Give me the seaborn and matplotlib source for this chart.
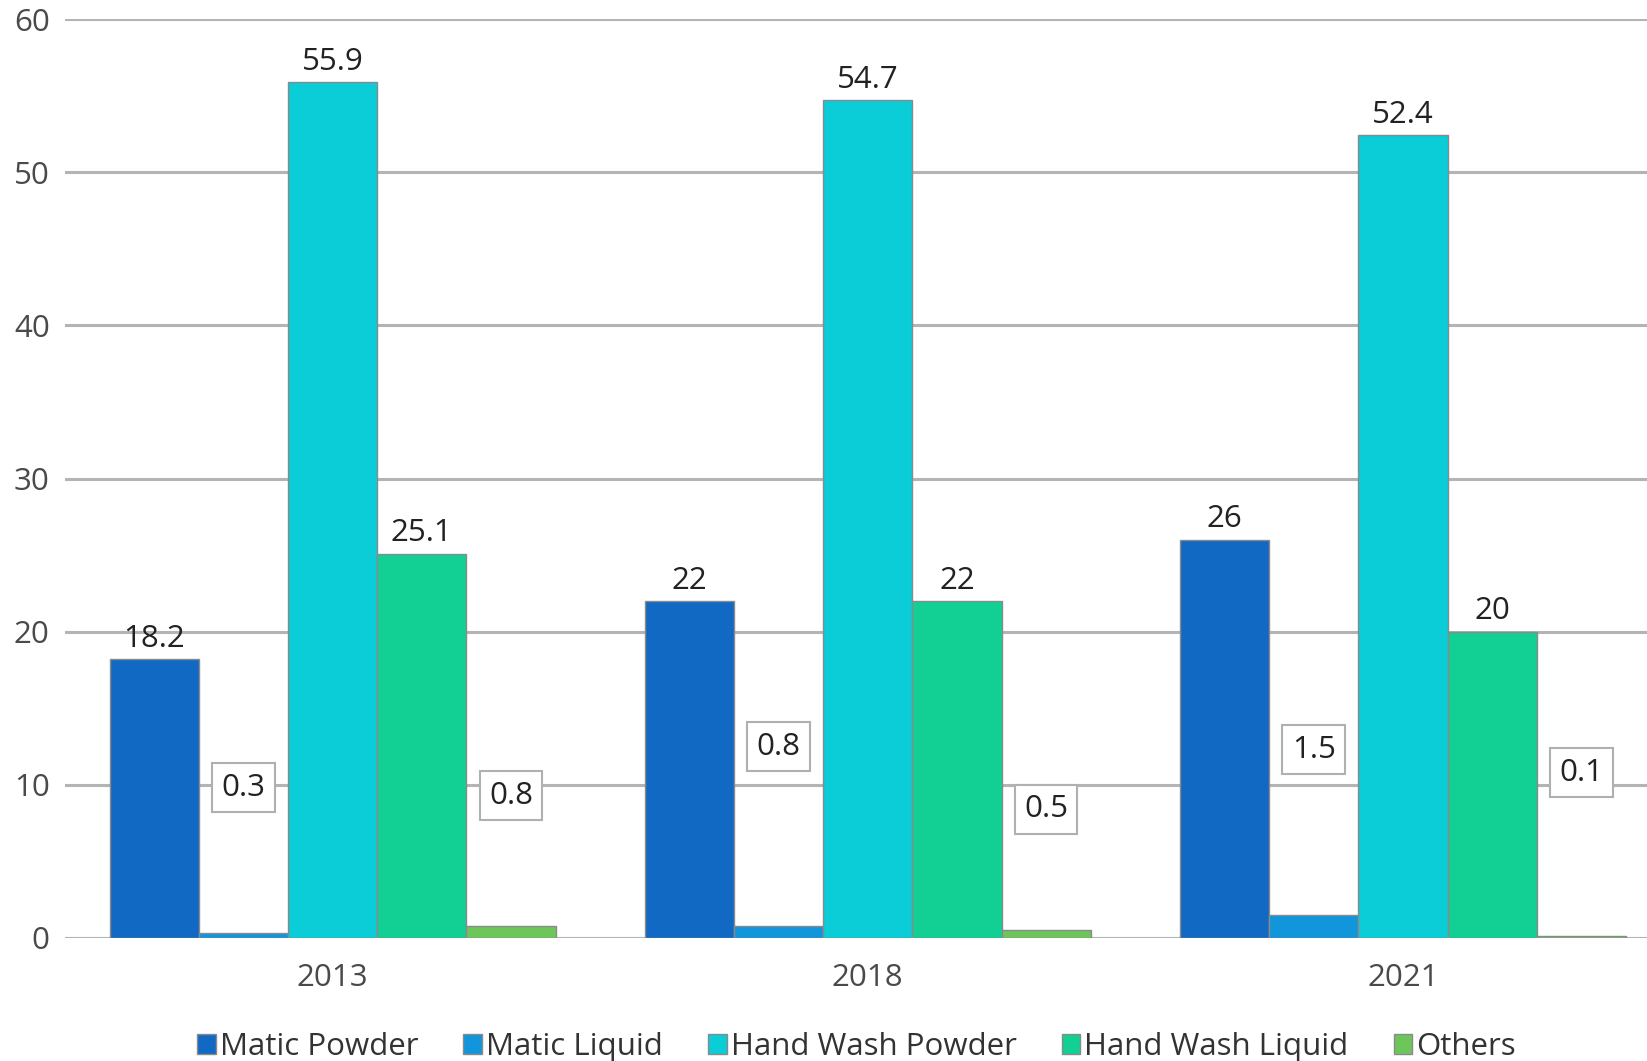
import matplotlib
matplotlib.use("Agg")
import matplotlib.pyplot as plt
import seaborn as sns
import pandas as pd

# Market share by detergent type (%)
years = ["2013", "2018", "2021"]
segments = ["Matic Powder", "Matic Liquid", "Hand Wash Powder", "Hand Wash Liquid", "Others"]
matic_powder = [18.2, 22, 26]
matic_liquid = [0.3, 0.8, 1.5]
hand_wash_powder = [55.9, 54.7, 52.4]
hand_wash_liquid = [25.1, 22, 20]
others = [0.8, 0.5, 0.1]

colors = ["#1169c4", "#1196dc", "#0bcdd8", "#12cf94", "#6cc65a"]

# Heights at which the boxed labels of the small bars sit
small_label_y = {
    "Matic Liquid": [9.8, 12.5, 12.3],
    "Others": [9.3, 8.4, 10.8],
}

series = [matic_powder, matic_liquid, hand_wash_powder, hand_wash_liquid, others]
rows = []
for seg, vals in zip(segments, series):
    for yr, v in zip(years, vals):
        rows.append({"Year": yr, "Segment": seg, "Share": v})
df = pd.DataFrame(rows)

sns.set_theme(style="white")
plt.rcParams["font.family"] = ["Open Sans", "DejaVu Sans"]

FS = 22.5

fig = plt.figure(figsize=(16.47, 10.61), dpi=100)
ax = fig.add_axes([0.0395, 0.116, 0.9605, 0.866])

sns.barplot(data=df, x="Year", y="Share", hue="Segment", order=years,
            hue_order=segments, palette=colors, width=0.833, saturation=1,
            edgecolor="#8a8a8a", linewidth=1.0, ax=ax, legend=True, zorder=3)

ax.set_ylim(0, 60)
ax.set_xlim(-0.5, 2.456)
ax.set_yticks(range(0, 61, 10))
ax.yaxis.grid(True, color="#b4b4b4", linewidth=2.2, zorder=0)
ax.set_axisbelow(True)
for s in ax.spines.values():
    s.set_visible(False)
ax.axhline(0, color="#b4b4b4", linewidth=2.2, zorder=2)
ax.set_xlabel("")
ax.set_ylabel("")
ax.tick_params(axis="both", length=0, labelsize=FS, labelcolor="#4a4a4a")
ax.tick_params(axis="y", pad=11)
ax.tick_params(axis="x", pad=18)

for seg, cont in zip(segments, ax.containers):
    for i, bar in enumerate(cont):
        val = bar.get_height()
        xc = bar.get_x() + bar.get_width() / 2
        txt = f"{val:g}"
        if seg in small_label_y:
            ax.text(xc, small_label_y[seg][i], txt, ha="center", va="center",
                    fontsize=FS, color="#222222", zorder=5,
                    bbox=dict(boxstyle="square,pad=0.3", facecolor="white",
                              edgecolor="#b0b0b0", linewidth=1.5))
        else:
            ax.text(xc, val + 0.35, txt, ha="center", va="bottom",
                    fontsize=FS, color="#222222", zorder=5)

handles, labels = ax.get_legend_handles_labels()
ax.legend_.remove()
fig.legend(handles, labels, loc="center", bbox_to_anchor=(0.52, 0.0135),
           ncol=5, frameon=False, fontsize=FS, handlelength=0.6,
           handleheight=0.6, handletextpad=0.12, columnspacing=1.45,
           labelcolor="#333333")

fig.savefig("out.png", dpi=100)
